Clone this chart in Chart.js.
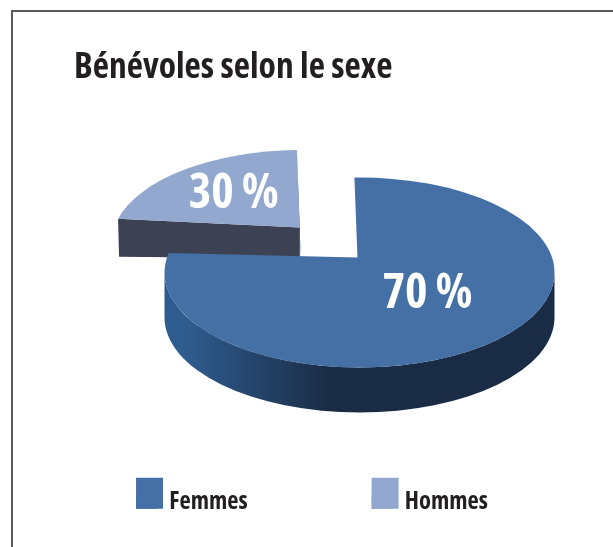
<!DOCTYPE html>
<html>
<head>
<meta charset="utf-8">
<title>Bénévoles selon le sexe</title>
<script src="https://cdn.jsdelivr.net/npm/chart.js@4"></script>
<style>
  html, body { margin: 0; background: #fff; }
  canvas { display: block; }
</style>
</head>
<body>
<canvas id="chartBenevoles" width="613" height="547"></canvas>
<script>
const titre = 'Bénévoles selon le sexe';
const categories = ['Femmes', 'Hommes'];
const valeurs = [70, 30];
const etiquettes = ['70\u2009%', '30\u2009%'];
const couleurs = ['#4470a6', '#92a8ce'];

const FONT = '"Open Sans", sans-serif';
const GRAS_ETROIT = 'condensed bold';   // goes straight into the canvas font string

// fake 3D: how the flat arcs from Chart.js get projected on the page
const SQUASH = 95 / 195;
const OFFSET_SQUASH = 0.757;
const SHIFT_X = 53;
const TITLE_X = 74;
const APEX = { x: -2, y: -15 };
const WARP = 33;                 // perspective, back of the pie shrinks
const GAP = 3;                   // degrees cut off the exploded slice
const SLICE_SCALE = [1, 0.975];
const DEPTH = [45, 31];
const LABEL_POS = [[70, 37], [-66, -33]];

function rad(d) { return d * Math.PI / 180; }

function warpAngle(angle, start) {
  const phi = angle - start;
  return start + phi - rad(WARP) * Math.sin(phi);
}

function sliceGeom(chart, arc, i) {
  const opts = arc.options;
  const mid = (arc.startAngle + arc.endAngle) / 2;
  const scale = SLICE_SCALE[i];
  const cx = arc.x + SHIFT_X + Math.cos(mid) * opts.offset;
  const cy = arc.y + Math.sin(mid) * opts.offset * OFFSET_SQUASH;
  const start = chart.getDatasetMeta(0).data[0].startAngle;
  return {
    cx, cy,
    rx: arc.outerRadius * scale,
    ry: arc.outerRadius * SQUASH * scale,
    ax: cx + APEX.x,
    ay: cy + APEX.y,
    a0: warpAngle(arc.startAngle, start),
    a1: warpAngle(arc.endAngle, start)
  };
}

function onRim(g, a) {
  return { x: g.cx + g.rx * Math.cos(a), y: g.cy + g.ry * Math.sin(a) };
}

function drawBigSlice(ctx, g, color) {
  // round side, only the front half shows
  const d = DEPTH[0];
  const grad = ctx.createLinearGradient(g.cx - g.rx, 0, g.cx - 30, 0);
  grad.addColorStop(0, '#2f5c8f');
  grad.addColorStop(0.12, '#2f5c8f');
  grad.addColorStop(1, '#1a2c45');
  ctx.beginPath();
  ctx.ellipse(g.cx, g.cy, g.rx, g.ry, 0, 0, Math.PI);
  ctx.lineTo(g.cx - g.rx, g.cy + d);
  ctx.ellipse(g.cx, g.cy + d, g.rx, g.ry, 0, Math.PI, 0, true);
  ctx.closePath();
  ctx.fillStyle = grad;
  ctx.fill();

  ctx.beginPath();
  ctx.moveTo(g.ax, g.ay);
  ctx.ellipse(g.cx, g.cy, g.rx, g.ry, 0, g.a0, g.a1);
  ctx.closePath();
  ctx.fillStyle = color;
  ctx.fill();
}

function drawSmallSlice(ctx, g, color) {
  const d = DEPTH[1];
  const a0 = g.a0 + rad(GAP);
  const left = onRim(g, a0);
  const top = onRim(g, g.a1);

  // straight cut facing the viewer
  ctx.beginPath();
  ctx.moveTo(left.x, left.y);
  ctx.lineTo(g.ax, g.ay);
  ctx.lineTo(g.ax, g.ay + d);
  ctx.lineTo(left.x + 1, left.y + d + 7);
  ctx.closePath();
  ctx.fillStyle = '#3c4254';
  ctx.fill();

  // thin edge on the right
  ctx.beginPath();
  ctx.moveTo(top.x, top.y);
  ctx.lineTo(g.ax + 1, g.ay + d);
  ctx.lineTo(g.ax - 1, g.ay);
  ctx.closePath();
  ctx.fillStyle = '#2f5c8f';
  ctx.fill();

  ctx.beginPath();
  ctx.moveTo(g.ax, g.ay);
  ctx.ellipse(g.cx, g.cy, g.rx, g.ry, 0, a0, g.a1);
  ctx.closePath();
  ctx.fillStyle = color;
  ctx.fill();
}

const camembert3d = {
  id: 'camembert3d',
  afterLayout(chart) {
    chart.titleBlock.left = TITLE_X;
  },
  beforeDraw(chart) {
    // frame of the page
    const ctx = chart.ctx;
    ctx.save();
    ctx.strokeStyle = '#58595b';
    ctx.lineWidth = 2;
    ctx.beginPath();
    ctx.moveTo(12, chart.height);
    ctx.lineTo(12, 11);
    ctx.lineTo(chart.width, 11);
    ctx.stroke();
    ctx.restore();
  },
  beforeDatasetsDraw(chart) {
    const ctx = chart.ctx;
    const arcs = chart.getDatasetMeta(0).data;
    const geoms = arcs.map((arc, i) => sliceGeom(chart, arc, i));

    ctx.save();
    drawSmallSlice(ctx, geoms[1], couleurs[1]);
    drawBigSlice(ctx, geoms[0], couleurs[0]);

    ctx.fillStyle = '#fff';
    ctx.font = GRAS_ETROIT + ' 48px ' + FONT;
    ctx.textAlign = 'center';
    ctx.textBaseline = 'middle';
    etiquettes.forEach((txt, i) => {
      ctx.fillText(txt, geoms[i].ax + LABEL_POS[i][0], geoms[i].ay + LABEL_POS[i][1]);
    });
    ctx.restore();
    return false;
  },
  afterDraw(chart) {
    // legend squares are taller and wider than what the legend draws itself
    const ctx = chart.ctx;
    ctx.save();
    chart.legend.legendHitBoxes.forEach((box, i) => {
      const boxBottom = box.top + (box.height + 14) / 2;
      ctx.fillStyle = couleurs[i];
      ctx.fillRect(box.left, boxBottom - 31, 27, 31);
    });
    ctx.restore();
  }
};

new Chart(document.getElementById('chartBenevoles').getContext('2d'), {
  type: 'pie',
  data: {
    labels: categories,
    datasets: [{
      data: valeurs,
      backgroundColor: couleurs,
      borderWidth: 0,
      offset: [0, 70]
    }]
  },
  options: {
    responsive: false,
    animation: false,
    rotation: -1.5,
    radius: 195,
    layout: {
      padding: { left: -12, right: -23, top: 47, bottom: 23 }
    },
    plugins: {
      title: {
        display: true,
        text: titre,
        align: 'start',
        color: '#231f20',
        font: { family: FONT, size: 35.5, weight: GRAS_ETROIT },
        padding: { top: 0, bottom: 90 }
      },
      legend: {
        position: 'bottom',
        labels: {
          color: '#231f20',
          font: { family: FONT, size: 24.5, weight: GRAS_ETROIT },
          boxWidth: 21,
          boxHeight: 14,
          padding: 124
        }
      },
      tooltip: { enabled: false }
    }
  },
  plugins: [camembert3d]
});
</script>
</body>
</html>
